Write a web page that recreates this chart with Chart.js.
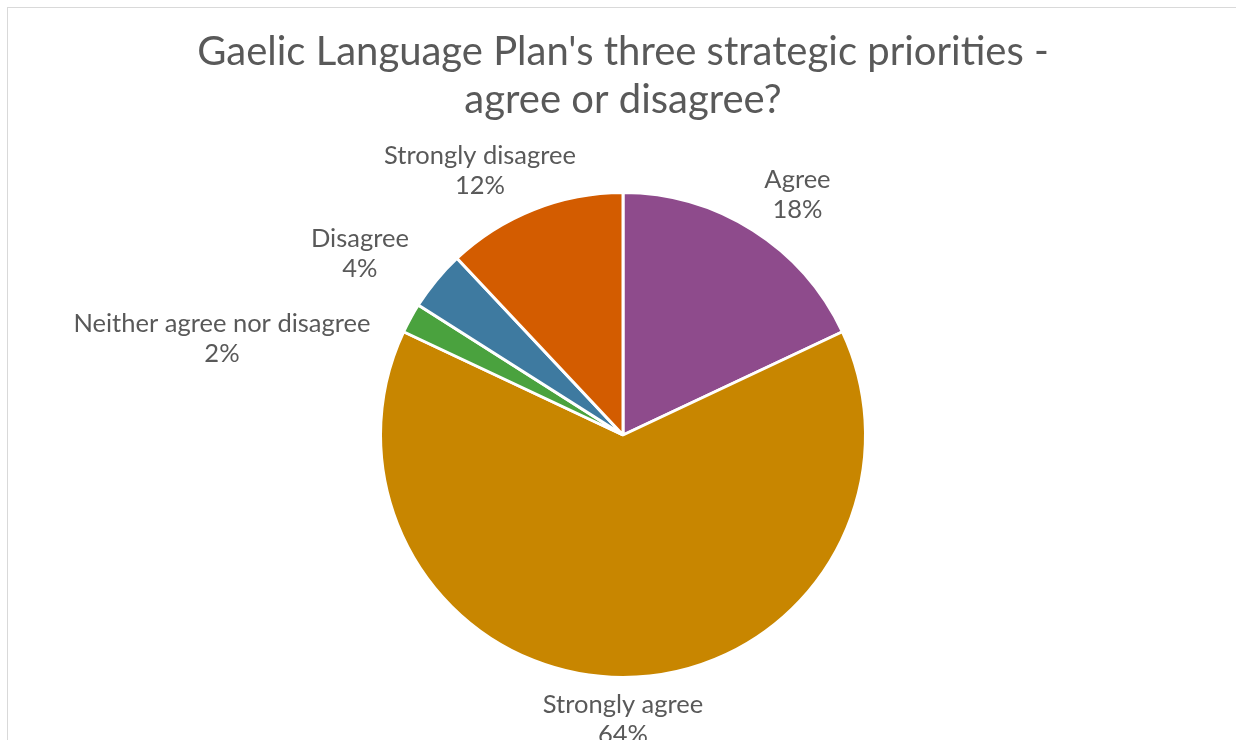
<!DOCTYPE html>
<html>
<head>
<meta charset="utf-8">
<script src="https://cdn.jsdelivr.net/npm/chart.js@4"></script>
<style>
  html, body { margin: 0; padding: 0; background: #fff; overflow: hidden; }
  .frame { position: absolute; left: 7px; top: 7px; width: 1300px; height: 800px; border: 1px solid #d9d9d9; }
  .wrap { position: absolute; left: 0; top: 0; width: 1236px; height: 740px; }
</style>
</head>
<body>
<div class="frame"></div>
<div class="wrap"><canvas id="chart"></canvas></div>
<script>
const labels = ["Agree", "Strongly agree", "Neither agree nor disagree", "Disagree", "Strongly disagree"];
const shares = [18, 64, 2, 4, 12];
const colors = ["#8e4b8c", "#c88600", "#4aa23e", "#3e7aa0", "#d35c00"];

const textColor = "#595959";
const fontFamily = "Lato, 'Open Sans', sans-serif";

// category name + percentage drawn outside each slice, nudged apart when they collide
const outsideLabels = {
  id: "outsideLabels",
  afterDatasetsDraw(chart) {
    const ctx = chart.ctx;
    const meta = chart.getDatasetMeta(0);
    const lineH = 30, gapX = 50, gapY = 12, spacing = 25, hug = 30;
    ctx.save();
    ctx.font = "25.5px " + fontFamily;
    ctx.fillStyle = textColor;
    ctx.textAlign = "center";
    ctx.textBaseline = "middle";

    const boxes = meta.data.map((arc, i) => {
      const p = arc.getProps(["x", "y", "startAngle", "endAngle", "outerRadius"], true);
      const mid = (p.startAngle + p.endAngle) / 2;
      const cos = Math.cos(mid), sin = Math.sin(mid);
      const lines = [labels[i], shares[i] + "%"];
      const w = Math.max(...lines.map(l => ctx.measureText(l).width));
      const h = lines.length * lineH;
      return {
        lines, w, h, px: p.x, py: p.y, r: p.outerRadius,
        cx: p.x + cos * (p.outerRadius + gapX + w / 2),
        cy: p.y + sin * (p.outerRadius + gapY + h / 2)
      };
    });

    const overlaps = (a, b) =>
      Math.abs(a.cx - b.cx) < (a.w + b.w) / 2 && Math.abs(a.cy - b.cy) < (a.h + b.h) / 2;

    // left-hand labels: push lower ones down and keep them tucked against the pie
    const left = boxes.filter(b => b.cx < b.px).sort((a, b) => a.cy - b.cy);
    for (let k = 1; k < left.length; k++) {
      const prev = left[k - 1], b = left[k];
      if (overlaps(prev, b)) {
        b.cy = prev.cy + prev.h / 2 + spacing + b.h / 2;
        const dy = b.cy - b.py;
        const edge = Math.abs(dy) < b.r ? b.px - Math.sqrt(b.r * b.r - dy * dy) : b.px;
        b.cx = edge - hug - b.w / 2;
      }
    }

    boxes.forEach(b => {
      b.lines.forEach((l, k) => {
        ctx.fillText(l, b.cx, b.cy - b.h / 2 + lineH / 2 + k * lineH);
      });
    });
    ctx.restore();
  }
};

new Chart(document.getElementById("chart"), {
  type: "pie",
  data: {
    labels: labels,
    datasets: [{
      data: shares,
      backgroundColor: colors,
      borderColor: "#ffffff",
      borderWidth: 3
    }]
  },
  options: {
    responsive: true,
    maintainAspectRatio: false,
    animation: false,
    layout: { padding: { left: 10, right: 0, top: 0, bottom: 61 } },
    plugins: {
      legend: { display: false },
      tooltip: { enabled: false },
      title: {
        display: true,
        text: ["Gaelic Language Plan's three strategic priorities -", "agree or disagree?"],
        color: textColor,
        font: { family: fontFamily, size: 40, weight: "normal", lineHeight: 1.2 },
        padding: { top: 28, bottom: 67 }
      }
    }
  },
  plugins: [outsideLabels]
});
</script>
</body>
</html>
